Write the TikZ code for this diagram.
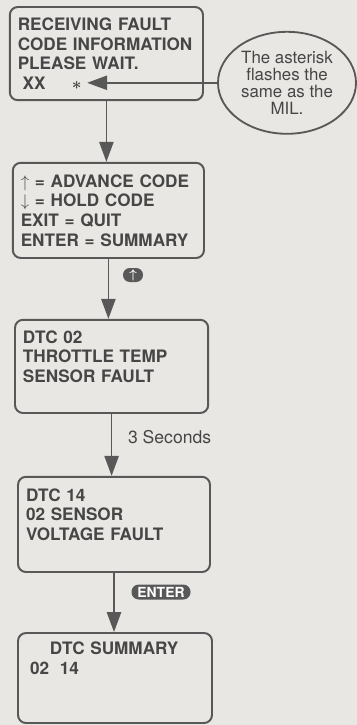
\documentclass[tikz,border=0pt]{standalone}
\usepackage{amsmath,amssymb}
\usepackage{fontspec}
\setmainfont{TeX Gyre Heros}
\usepackage{tikz}
\usetikzlibrary{arrows.meta, positioning, shapes.geometric}

\definecolor{paper}{RGB}{233,231,228}
\definecolor{ink}{RGB}{88,88,88}
\definecolor{inktext}{RGB}{70,70,70}

\begin{document}
\begin{tikzpicture}[
      scr/.style={draw=ink, line width=1.4pt, rounded corners=0.2cm, align=left,
                  inner xsep=0.2cm, inner ysep=0pt, text=inktext,
                  font=\fontsize{12.2}{14}\selectfont\bfseries},
      note/.style={draw=ink, line width=1.3pt, ellipse, inner sep=0pt, align=center,
                   text=inktext, font=\fontsize{12}{12.2}\selectfont},
      key/.style={fill=ink, text=white, inner sep=0pt, font=\bfseries},
      arr/.style={-{Triangle[width=0.36cm, length=0.5cm]}, line width=1pt, draw=ink},
      lbl/.style={text=inktext, font=\fontsize{12.5}{14}\selectfont}]

    % ============================
    % PAPER
    % ============================
    \useasboundingbox (0,0) rectangle (8.925,-18.125);
    \fill[paper] (0,0) rectangle (8.925,-18.125);

    % ============================
    % SCREENS
    % ============================
    \node[scr, text width=4.43cm, minimum height=2.33cm] (recv) at (2.66,-1.34)
      {RECEIVING FAULT\\CODE INFORMATION\\PLEASE WAIT.\\
       \hspace*{0.12cm}XX\hspace{0.66cm}$\boldsymbol{\ast}$};
    \coordinate (astpt) at (2.18,-2.07);

    \node[scr, text width=4.38cm, minimum height=2.38cm] (menu) at (2.71,-5.26)
      {$\uparrow$ = ADVANCE CODE\\$\downarrow$ = HOLD CODE\\EXIT = QUIT\\ENTER = SUMMARY};

    \node[scr, text width=4.43cm, minimum height=2.33cm] (dtcA) at (2.79,-9.16)
      {DTC 02\\THROTTLE TEMP\\SENSOR FAULT\\\mbox{}};

    \node[scr, text width=4.40cm, minimum height=2.38cm] (dtcB) at (2.85,-13.11)
      {DTC 14\\02 SENSOR\\VOLTAGE FAULT\\\mbox{}};

    \node[scr, text width=4.45cm, minimum height=2.25cm] (summ) at (2.875,-16.95)
      {\hspace*{0.6cm}DTC SUMMARY\\\hspace*{0.1cm}02~\hspace{0.3em}14\\\mbox{}\\\mbox{}};

    % callout
    \node[note, minimum width=3.45cm, minimum height=2.55cm] (mil) at (7.175,-2.07)
      {The asterisk\\flashes the\\same as the\\MIL.};

    % ============================
    % KEYS / LABELS
    % ============================
    \node[key, rounded corners=0.17cm, minimum width=0.5cm, minimum height=0.35cm,
          font=\small] (upkey) at (3.325,-6.875) {$\boldsymbol{\uparrow}$};
    \node[lbl] (wait) at (4.24,-10.925) {3 Seconds};
    \node[key, rounded corners=0.18cm, minimum width=1.475cm, minimum height=0.375cm,
          font=\fontsize{9.9}{10}\selectfont\bfseries] (enter) at (4.025,-14.8) {ENTER};

    % ============================
    % CONNECTORS
    % ============================
    \draw[arr] (mil.west |- astpt) -- (astpt);
    \draw[arr] (recv.south) -- (recv.south |- menu.north);
    \draw[arr] (menu.south) -- (menu.south |- dtcA.north);
    \draw[arr] (dtcA.south) -- (dtcA.south |- dtcB.north);
    \draw[arr] (dtcB.south) -- (dtcB.south |- summ.north);

\end{tikzpicture}
\end{document}
